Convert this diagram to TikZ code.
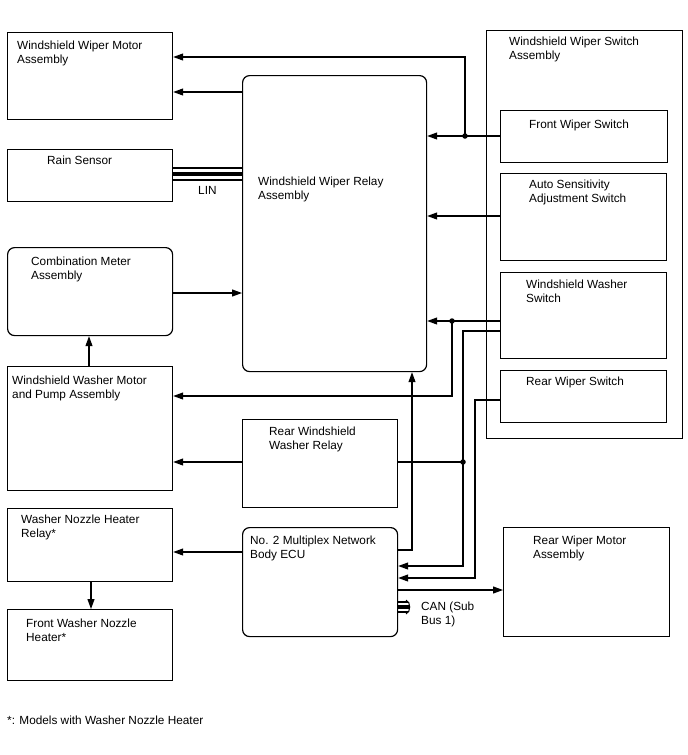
\documentclass[tikz,border=0pt]{standalone}
\usepackage{fontspec}
\setmainfont{Liberation Sans}
\usetikzlibrary{arrows.meta,calc}
\newcommand{\fsz}{\fontsize{11.8}{14}\selectfont}
\begin{document}
\begin{tikzpicture}[x=1pt,y=-1pt,
  box/.style={draw, line width=1.2pt, inner sep=0pt, anchor=north west},
  rbox/.style={box, rounded corners=7pt},
  lbl/.style={anchor=base west, inner sep=0pt, align=left, font=\fsz},
  arr/.style={-{Triangle[length=10pt,width=7pt]}, line width=1.1pt},
  ln/.style={line width=1.1pt},
  dotc/.style={circle, fill, inner sep=0pt, minimum size=5.5pt}]
\useasboundingbox (0,0) rectangle (688,755);
% boxes
\node[box, minimum width=165pt, minimum height=87pt] (wwm) at (7,32) {};
\node[box, minimum width=165pt, minimum height=52pt] (rain) at (7,149) {};
\node[rbox, minimum width=165pt, minimum height=88pt] (comb) at (7,247) {};
\node[box, minimum width=165pt, minimum height=124pt] (wash) at (7,366) {};
\node[box, minimum width=165pt, minimum height=73pt] (nzr) at (7,508) {};
\node[box, minimum width=165pt, minimum height=71pt] (fnh) at (7,609) {};
\node[rbox, minimum width=184pt, minimum height=296pt] (wra) at (242,75) {};
\node[box, minimum width=155pt, minimum height=88pt] (rwr) at (242,419) {};
\node[rbox, minimum width=155pt, minimum height=109pt] (ecu) at (242,527) {};
\node[box, minimum width=166pt, minimum height=109pt] (rwm) at (503,527) {};
\node[box, minimum width=196pt, minimum height=408pt] (wsa) at (486,30) {};
\node[box, minimum width=167pt, minimum height=52pt] (fws) at (500,110) {};
\node[box, minimum width=166pt, minimum height=87pt] (ass) at (500,173) {};
\node[box, minimum width=166pt, minimum height=86pt] (wws) at (500,272) {};
\node[box, minimum width=166pt, minimum height=52pt] (rws) at (500,370) {};
% labels (base = baseline of the last line)
\node[lbl] (t1) at (17,63) {Windshield Wiper Motor\\Assembly};
\node[lbl] (t2) at (47,164) {Rain Sensor};
\node[lbl] (t3) at (31,279) {Combination Meter\\Assembly};
\node[lbl] (t4) at (12,398) {Windshield Washer Motor\\and Pump Assembly};
\node[lbl] (t5) at (21,537) {Washer Nozzle Heater\\Relay*};
\node[lbl] (t6) at (26,641) {Front Washer Nozzle\\Heater*};
\node[lbl] (t7) at (258,199) {Windshield Wiper Relay\\Assembly};
\node[lbl] (t8) at (269,449) {Rear Windshield\\Washer Relay};
\node[lbl] (t9) at (250,558) {No. 2 Multiplex Network\\Body ECU};
\node[lbl] (t10) at (533,558) {Rear Wiper Motor\\Assembly};
\node[lbl] (t11) at (509,59) {Windshield Wiper Switch\\Assembly};
\node[lbl] (t12) at (529,128) {Front Wiper Switch};
\node[lbl] (t13) at (529,202) {Auto Sensitivity\\Adjustment Switch};
\node[lbl] (t14) at (526,302) {Windshield Washer\\Switch};
\node[lbl] (t15) at (526,385) {Rear Wiper Switch};
\node[lbl] (lin) at (198,194) {LIN};
\node[lbl] (can) at (421,624) {CAN (Sub\\Bus 1)};
\node[lbl] (foot) at (7,724) {*: Models with Washer Nozzle Heater};
% junctions
\node[dotc] (j1) at (465,136) {};
\node[dotc] (j2) at (452,321) {};
\node[dotc] (j3) at (463,462) {};
\coordinate (c412) at (412,550);
\coordinate (c463) at (463,331);
\coordinate (c475) at (475,400);
% connectors
\draw[arr] (fws.west |- j1) -- (wra.east |- j1);
\draw[arr] (j1.center) |- (wwm.east |- 0,57);
\draw[arr] (wra.west |- 0,92) -- (wwm.east |- 0,92);
\draw[ln] (rain.east |- 0,168) -- (wra.west |- 0,168);
\draw[line width=3.6pt] (rain.east |- 0,174) -- (wra.west |- 0,174);
\draw[ln] (rain.east |- 0,180) -- (wra.west |- 0,180);
\draw[arr] (ass.west |- 0,216) -- (wra.east |- 0,216);
\draw[arr] (comb.east |- 0,293) -- (wra.west |- 0,293);
\draw[arr] (wash.north -| 89,0) -- (comb.south -| 89,0);
\draw[arr] (wws.west |- j2) -- (wra.east |- j2);
\draw[arr] (j2.center) |- (wash.east |- 0,396);
\draw[arr] (wws.west |- c463) -| (463,566) -- (ecu.east |- 0,566);
\draw[ln] (rwr.east |- j3) -- (j3.center);
\draw[arr] (rwr.west |- j3) -- (wash.east |- j3);
\draw[arr] (ecu.east |- c412) -- (c412) -- (wra.south -| c412);
\draw[arr] (rws.west |- c475) -| (475,578) -- (ecu.east |- 0,578);
\draw[arr] (ecu.east |- 0,590) -- (rwm.west |- 0,590);
\draw[arr] (ecu.west |- 0,552) -- (nzr.east |- 0,552);
\draw[arr] (nzr.south -| 91,0) -- (fnh.north -| 91,0);
% CAN
\draw[ln] (ecu.east |- 0,602) -- (408,602);
\draw[line width=3.2pt] (ecu.east |- 0,607) -- (409,607);
\draw[ln] (ecu.east |- 0,612) -- (408,612);
\draw[line width=1pt] (406,600) .. controls (411,602) and (411,612) .. (406,614);
\end{tikzpicture}
\end{document}
